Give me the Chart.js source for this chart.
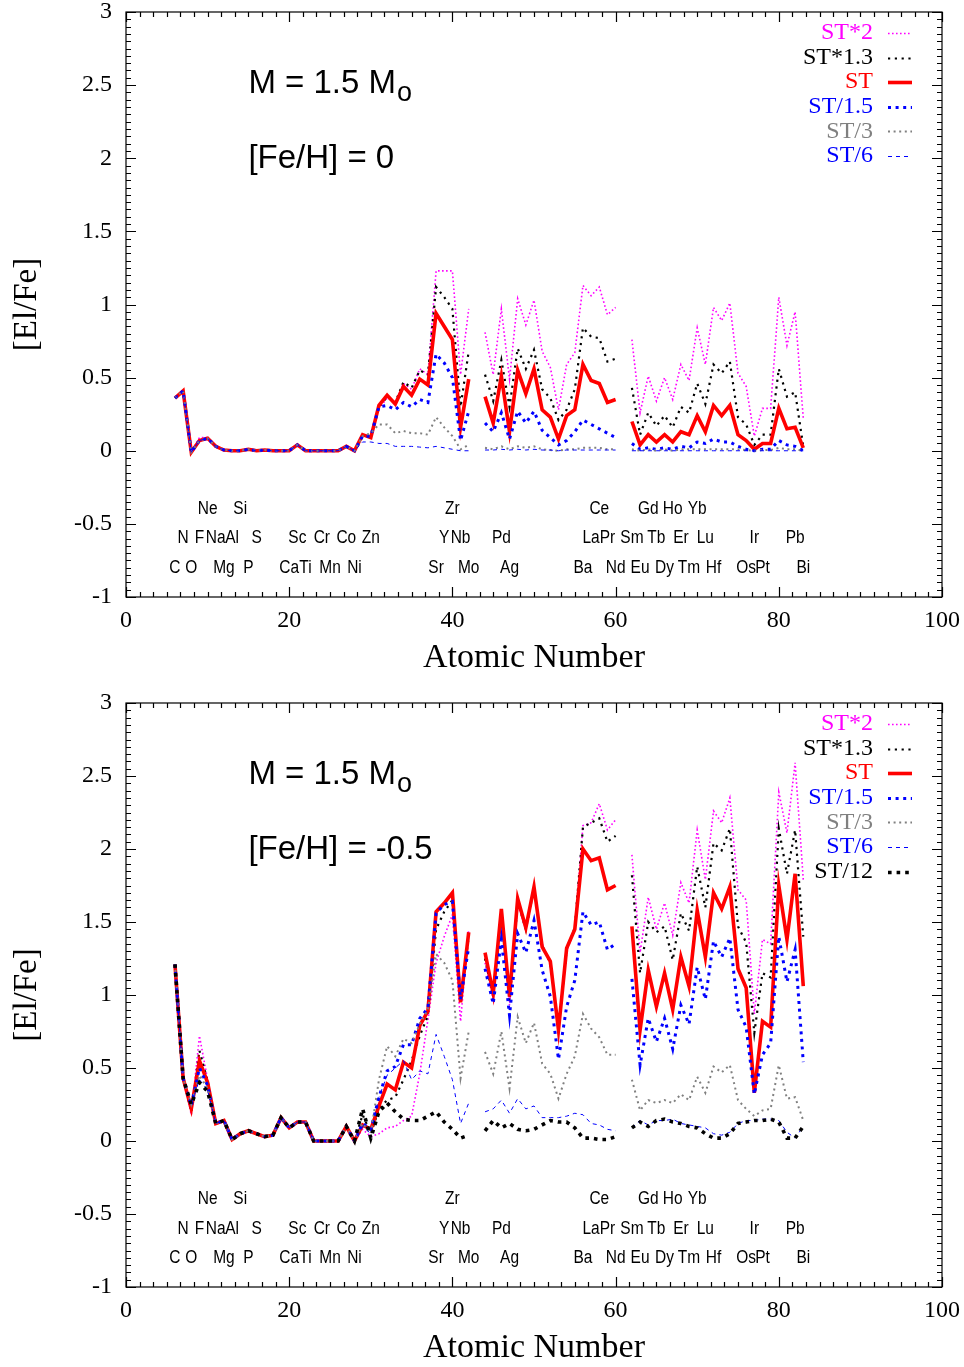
<!DOCTYPE html>
<html><head><meta charset="utf-8">
<script src="https://cdn.jsdelivr.net/npm/chart.js@4"></script>
<style>
html,body{margin:0;padding:0;background:#fff;width:964px;height:1367px;overflow:hidden;}
canvas{position:absolute;left:0;}
</style></head><body>
<canvas id="c1" width="964" height="683" style="top:0px"></canvas>
<canvas id="c2" width="964" height="684" style="top:683px"></canvas>
<script>
// ---------------- DATA ----------------
const atomicNumbers = [6,7,8,9,10,11,12,13,14,15,16,17,18,19,20,21,22,23,24,25,26,27,28,29,30,31,32,33,34,35,36,37,38,39,40,41,42,43,44,45,46,47,48,49,50,51,52,53,54,55,56,57,58,59,60,61,62,63,64,65,66,67,68,69,70,71,72,73,74,75,76,77,78,79,80,81,82,83];

const seriesLabels = ['ST*2','ST*1.3','ST','ST/1.5','ST/3','ST/6','ST/12'];

// Top panel: M = 1.5 Mo, [Fe/H] = 0
const topST2 = [0.36,0.41,-0.01,0.09,0.09,0.03,0.005,0,0,0.01,0,0.005,0,0,0,0.04,0,0,0,0,0,0.03,0,
 0.11,0.09,0.29,0.36,0.33,0.46,0.42,0.56,0.52,1.23,1.23,1.23,0.52,0.97,null,
 0.81,0.52,0.97,0.49,1.04,0.86,1.03,0.68,0.57,0.28,0.59,0.67,1.13,1.06,1.12,0.93,0.98,null,
 0.76,0.26,0.51,0.34,0.5,0.35,0.59,0.48,0.84,0.59,0.98,0.89,1.01,0.53,0.44,0.10,0.29,0.29,1.05,0.72,0.95,0.22];
const topST13 = [0.36,0.41,-0.01,0.07,0.085,0.03,0.005,0,0,0.01,0,0.005,0,0,0,0.04,0,0,0,0,0,0.03,0,
 0.11,0.09,0.3,0.37,0.33,0.47,0.43,0.55,0.52,1.12,1.05,0.97,0.3,0.68,null,
 0.52,0.34,0.62,0.30,0.70,0.56,0.69,0.42,0.36,0.21,0.28,0.42,0.84,0.78,0.77,0.61,0.63,null,
 0.43,0.11,0.26,0.17,0.24,0.16,0.30,0.26,0.46,0.32,0.59,0.53,0.61,0.23,0.18,0.04,0.11,0.11,0.56,0.37,0.40,0.03];
const topST = [0.36,0.41,-0.01,0.07,0.085,0.03,0.005,0,0,0.01,0,0.005,0,0,0,0.04,0,0,0,0,0,0.03,0,
 0.11,0.09,0.31,0.38,0.32,0.44,0.38,0.49,0.45,0.94,0.85,0.76,0.16,0.49,null,
 0.37,0.19,0.51,0.13,0.55,0.39,0.56,0.28,0.23,0.08,0.24,0.28,0.59,0.48,0.46,0.33,0.35,null,
 0.2,0.04,0.11,0.06,0.11,0.06,0.13,0.11,0.24,0.13,0.31,0.24,0.31,0.11,0.07,0.01,0.05,0.05,0.29,0.15,0.16,0.02];
const topST15 = [0.36,0.41,-0.01,0.07,0.085,0.03,0.005,0,0,0.01,0,0.005,0,0,0,0.04,0,0,0,0,0,0.03,0,
 0.1,0.1,0.3,0.31,0.28,0.33,0.3,0.35,0.33,0.66,0.6,0.5,0.07,0.27,null,
 0.19,0.13,0.26,0.08,0.27,0.19,0.27,0.14,0.09,0.04,0.07,0.13,0.21,0.18,0.15,0.12,0.09,null,
 0.05,0.01,0.02,0.01,0.02,0.01,0.03,0.02,0.06,0.05,0.08,0.06,0.06,0.03,0.01,0,0.01,0.01,0.07,0.04,0.03,0];
const topST3 = [0.36,0.41,-0.01,0.07,0.085,0.03,0.005,0,0,0.01,0,0.005,0,0,0,0.04,0,0,0,0,0,0.03,0,
 0.1,0.12,0.18,0.18,0.12,0.135,0.12,0.12,0.11,0.23,0.16,0.1,0.01,0.04,null,
 0.02,0.01,0.03,0.01,0.03,0.02,0.03,0.01,0.005,0,0.01,0.01,0.02,0.02,0.02,0.01,0.01,null,
 0.01,0,0.01,0,0.01,0,0.01,0.01,0.01,0.01,0.01,0.01,0.01,0.01,0.005,0,0.005,0.005,0.02,0.01,0.01,0];
const topST6 = [0.36,0.41,-0.01,0.07,0.085,0.03,0.005,0,0,0.01,0,0.005,0,0,0,0.04,0,0,0,0,0,0.03,0,
 0.06,0.06,0.05,0.05,0.03,0.03,0.03,0.025,0.02,0.03,0.02,0.01,0,0,null,
 0.005,0.005,0.01,0.005,0.01,0.005,0.01,0.005,0.005,0,0.005,0.005,0.005,0.005,0.005,0.005,0.005,null,
 0,0,0,0,0,0,0,0,0,0,0,0,0,0,0,0,0,0,0,0,0,0];

// Bottom panel: M = 1.5 Mo, [Fe/H] = -0.5
const botST2 = [1.21,0.43,0.18,0.72,0.42,0.12,0.14,0.01,0.05,0.07,0.05,0.03,0.04,0.16,0.09,0.13,0.13,0,0,0,0,0.1,0,
 0.08,0.03,0.05,0.09,0.1,0.14,0.17,0.46,0.83,1.22,1.40,1.55,0.82,1.45,null,
 1.22,0.97,1.55,0.93,1.62,1.45,1.72,1.35,1.22,0.78,1.3,1.45,2.16,2.18,2.31,2.13,2.2,null,
 1.96,1.29,1.67,1.45,1.63,1.41,1.77,1.63,2.13,1.79,2.26,2.18,2.35,1.72,1.65,0.87,1.38,1.35,2.39,2.11,2.59,1.79];
const botST13 = [1.21,0.43,0.2,0.62,0.41,0.12,0.14,0.01,0.05,0.07,0.05,0.03,0.04,0.16,0.09,0.13,0.13,0,0,0,0,0.1,0,
 0.18,0.05,0.22,0.28,0.3,0.42,0.55,0.72,0.86,1.45,1.57,1.65,0.98,1.4,null,
 1.25,0.99,1.57,0.96,1.64,1.45,1.73,1.34,1.22,0.77,1.31,1.46,2.15,2.18,2.21,2.05,2.09,null,
 1.82,1.15,1.5,1.43,1.47,1.24,1.56,1.44,1.88,1.6,2.04,1.99,2.14,1.47,1.36,0.74,1.15,1.12,2.14,1.83,2.13,1.4];
const botST = [1.21,0.43,0.22,0.55,0.40,0.12,0.14,0.01,0.05,0.07,0.05,0.03,0.04,0.16,0.09,0.13,0.13,0,0,0,0,0.1,0,
 0.11,0.08,0.24,0.39,0.35,0.54,0.50,0.79,0.89,1.57,1.63,1.70,0.95,1.43,null,
 1.29,1.01,1.59,0.99,1.66,1.46,1.74,1.33,1.23,0.76,1.32,1.45,2.0,1.92,1.94,1.72,1.75,null,
 1.47,0.76,1.17,0.92,1.15,0.9,1.26,1.06,1.58,1.26,1.70,1.59,1.74,1.18,1.05,0.33,0.82,0.78,1.75,1.38,1.83,1.06];
const botST15 = [1.21,0.43,0.24,0.5,0.38,0.12,0.14,0.01,0.05,0.07,0.05,0.03,0.04,0.16,0.09,0.13,0.13,0,0,0,0,0.1,0,
 0.12,0.08,0.3,0.48,0.51,0.66,0.66,0.84,0.91,1.56,1.62,1.64,0.97,1.33,null,
 1.18,0.94,1.38,0.86,1.42,1.29,1.51,1.17,0.99,0.56,0.92,1.1,1.57,1.48,1.5,1.31,1.35,null,
 1.11,0.52,0.84,0.68,0.84,0.63,0.93,0.8,1.19,0.97,1.37,1.26,1.39,0.9,0.78,0.32,0.59,0.67,1.40,1.09,1.31,0.54];
const botST3 = [1.21,0.43,0.25,0.45,0.36,0.12,0.14,0.01,0.05,0.07,0.05,0.03,0.04,0.16,0.09,0.13,0.13,0,0,0,0,0.1,0,
 0.12,0.05,0.42,0.65,0.58,0.70,0.67,0.8,0.9,1.28,1.22,1.1,0.43,0.75,null,
 0.61,0.46,0.75,0.36,0.85,0.67,0.81,0.53,0.46,0.29,0.46,0.58,0.87,0.77,0.71,0.59,0.59,null,
 0.42,0.21,0.28,0.26,0.28,0.26,0.32,0.28,0.44,0.33,0.51,0.47,0.52,0.28,0.22,0.17,0.21,0.22,0.52,0.29,0.3,0.14];
const botST6 = [1.21,0.43,0.25,0.42,0.35,0.12,0.14,0.01,0.05,0.07,0.05,0.03,0.04,0.16,0.09,0.13,0.13,0,0,0,0,0.1,0,
 0.1,0.05,0.3,0.45,0.5,0.55,0.42,0.48,0.46,0.73,0.58,0.42,0.12,0.26,null,
 0.2,0.22,0.28,0.19,0.29,0.22,0.24,0.16,0.16,0.16,0.17,0.19,0.18,0.12,0.11,0.08,0.07,null,
 0.09,0.14,0.11,0.14,0.14,0.15,0.12,0.11,0.1,0.09,0.05,0.04,0.06,0.12,0.14,0.14,0.15,0.15,0.14,0.06,0.02,0.1];
const botST12 = [1.21,0.43,0.25,0.4,0.34,0.12,0.14,0.01,0.05,0.07,0.05,0.03,0.04,0.16,0.09,0.13,0.13,0,0,0,0,0.1,0,
 0.22,0.02,0.2,0.26,0.2,0.15,0.14,0.14,0.17,0.2,0.13,0.08,0.02,0.04,null,
 0.07,0.14,0.09,0.12,0.08,0.07,0.08,0.11,0.14,0.13,0.13,0.09,0.02,0.02,0.01,0.01,0.03,null,
 0.09,0.13,0.1,0.14,0.15,0.13,0.12,0.1,0.09,0.05,0.02,0.02,0.05,0.12,0.13,0.14,0.14,0.15,0.13,0.02,0.02,0.1];

// Element labels (symbol, atomic number, label row y-value)
const elementSymbols = ['C','O','Mg','P','Ca','Ti','Mn','Ni','Sr','Mo','Ag','Ba','Nd','Eu','Dy','Tm','Hf','Os','Pt','Bi',
 'N','F','Na','Al','S','Sc','Cr','Co','Zn','Y','Nb','Pd','La','Pr','Sm','Tb','Er','Lu','Ir','Pb',
 'Ne','Si','Zr','Ce','Gd','Ho','Yb'];
const elementZ = [6,8,12,15,20,22,25,28,38,42,47,56,60,63,66,69,72,76,78,83,
 7,9,11,13,16,21,24,27,30,39,41,46,57,59,62,65,68,71,77,82,
 10,14,40,58,64,67,70];
const elementRowY = [-0.8,-0.8,-0.8,-0.8,-0.8,-0.8,-0.8,-0.8,-0.8,-0.8,-0.8,-0.8,-0.8,-0.8,-0.8,-0.8,-0.8,-0.8,-0.8,-0.8,
 -0.6,-0.6,-0.6,-0.6,-0.6,-0.6,-0.6,-0.6,-0.6,-0.6,-0.6,-0.6,-0.6,-0.6,-0.6,-0.6,-0.6,-0.6,-0.6,-0.6,
 -0.4,-0.4,-0.4,-0.4,-0.4,-0.4,-0.4];

const xTicksMajor = 20, xMinorPerMajor = 12;
const yTicksMajor = 0.5, yMinorPerMajor = 10;

// ---------------- STYLES ----------------
const seriesStyles = [
  {color:'#ff00ff', width:1.6, dash:[1.6,2.4]},
  {color:'#000000', width:2.2, dash:[2.2,4.6]},
  {color:'#ff0000', width:3.6, dash:[]},
  {color:'#0000ff', width:3.0, dash:[3,4.6]},
  {color:'#808080', width:2.0, dash:[2,3.6]},
  {color:'#0000ff', width:1.0, dash:[4,4]},
  {color:'#000000', width:3.6, dash:[3.6,5]}
];

Chart.defaults.font.family = '"Liberation Serif","Times New Roman",serif';
Chart.defaults.color = '#000';

const decor = {
  id:'decor',
  afterDraw(chart, args, o) {
    const ctx = chart.ctx, ca = chart.chartArea, xs = chart.scales.x, ys = chart.scales.y;
    ctx.save();
    ctx.strokeStyle = '#000'; ctx.lineWidth = 1.2; ctx.setLineDash([]);
    ctx.strokeRect(ca.left, ca.top, ca.right - ca.left, ca.bottom - ca.top);
    ctx.beginPath();
    const ny = Math.round((ys.max - ys.min) / yTicksMajor * yMinorPerMajor);
    for (let i = 0; i <= ny; i++) {
      const py = Math.round(ys.getPixelForValue(ys.min + i * yTicksMajor / yMinorPerMajor)) + 0.5;
      const L = (i % yMinorPerMajor === 0) ? 10 : 5;
      ctx.moveTo(ca.left, py); ctx.lineTo(ca.left + L, py);
      ctx.moveTo(ca.right, py); ctx.lineTo(ca.right - L, py);
    }
    const nx = Math.round((xs.max - xs.min) / xTicksMajor * xMinorPerMajor);
    for (let i = 0; i <= nx; i++) {
      const px = Math.round(xs.getPixelForValue(xs.min + i * xTicksMajor / xMinorPerMajor)) + 0.5;
      const L = (i % xMinorPerMajor === 0) ? 10 : 5;
      ctx.moveTo(px, ca.bottom); ctx.lineTo(px, ca.bottom - L);
      ctx.moveTo(px, ca.top); ctx.lineTo(px, ca.top + L);
    }
    ctx.stroke();

    // Annotations
    ctx.fillStyle = '#000';
    ctx.textBaseline = 'alphabetic'; ctx.textAlign = 'left';
    const ax = xs.getPixelForValue(15);
    ctx.font = '33px "Liberation Sans", Arial, sans-serif';
    const t1 = 'M = 1.5 M';
    const y1 = ys.getPixelForValue(2.445);
    ctx.fillText(t1, ax, y1);
    const w1 = ctx.measureText(t1).width;
    ctx.font = '27px "Liberation Sans", Arial, sans-serif';
    ctx.fillText('o', ax + w1 + 1, y1 + 8);
    ctx.font = '33px "Liberation Sans", Arial, sans-serif';
    ctx.fillText(o.feh, ax, ys.getPixelForValue(1.93));

    // Element labels
    ctx.font = '18px "Liberation Sans", Arial, sans-serif';
    ctx.textAlign = 'center'; ctx.textBaseline = 'middle';
    for (let i = 0; i < elementSymbols.length; i++) {
      const px = xs.getPixelForValue(elementZ[i]);
      const py = ys.getPixelForValue(elementRowY[i]);
      ctx.save(); ctx.translate(px, py); ctx.scale(0.86, 1);
      ctx.fillText(elementSymbols[i], 0, 0);
      ctx.restore();
    }

    // Legend
    ctx.font = '24px "Liberation Serif","Times New Roman",serif';
    ctx.textAlign = 'right'; ctx.textBaseline = 'middle';
    chart.data.datasets.forEach((ds, i) => {
      const y = ca.top + 21 + i * 24.6;
      ctx.fillStyle = ds.borderColor;
      ctx.fillText(ds.label, ca.right - 69, y);
      ctx.beginPath();
      ctx.strokeStyle = ds.borderColor; ctx.lineWidth = ds.borderWidth;
      ctx.setLineDash(ds.borderDash || []);
      ctx.moveTo(ca.right - 54, Math.round(y) + 0.5); ctx.lineTo(ca.right - 30, Math.round(y) + 0.5);
      ctx.stroke();
    });
    ctx.restore();
  }
};

function makeChart(id, seriesData, feh, padTop, xAxisH, titlePadB) {
  const datasets = seriesData.map((vals, i) => ({
    label: seriesLabels[i],
    data: vals.map((v, k) => ({x: atomicNumbers[k], y: v})),
    borderColor: seriesStyles[i].color,
    borderWidth: seriesStyles[i].width,
    borderDash: seriesStyles[i].dash,
    borderCapStyle: 'butt',
    borderJoinStyle: 'miter',
    pointRadius: 0,
    fill: false,
    spanGaps: false,
    tension: 0,
    order: 10 - i
  }));
  return new Chart(document.getElementById(id), {
    type: 'line',
    data: {datasets},
    options: {
      responsive: false, animation: false, devicePixelRatio: 1,
      layout: {padding: {top: padTop, right: 22, left: 0, bottom: 0}},
      plugins: {legend: {display: false}, tooltip: {enabled: false}, decor: {feh}},
      scales: {
        x: {type: 'linear', min: 0, max: 100,
          ticks: {stepSize: 20, font: {size: 24, lineHeight: 1}, color: '#000', padding: 0, maxRotation: 0,
                  callback: v => String(Math.round(v))},
          grid: {display: false, drawTicks: true, tickLength: 12}, border: {display: false},
          title: {display: true, text: 'Atomic Number', color: '#000', font: {size: 34, lineHeight: 1}, padding: {top: 0, bottom: titlePadB}},
          afterFit: s => { s.height = xAxisH; }
        },
        y: {type: 'linear', min: -1, max: 3,
          ticks: {stepSize: 0.5, font: {size: 24, lineHeight: 1}, color: '#000', padding: 0,
                  callback: v => String(Math.round(v * 10) / 10)},
          grid: {display: false, drawTicks: true, tickLength: 14}, border: {display: false},
          title: {display: true, text: '[El/Fe]', color: '#000', font: {size: 33, lineHeight: 1}, padding: {top: 11, bottom: 0}},
          afterFit: s => { s.width = 126; }
        }
      }
    },
    plugins: [decor]
  });
}

makeChart('c1', [topST2, topST13, topST, topST15, topST3, topST6], '[Fe/H] = 0', 12, 86, 8);
makeChart('c2', [botST2, botST13, botST, botST15, botST3, botST6, botST12], '[Fe/H] = -0.5', 20, 80, 2);
</script>
</body></html>
